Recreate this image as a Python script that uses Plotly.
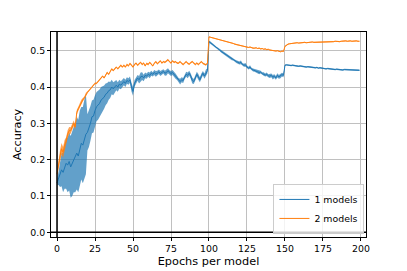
import plotly.graph_objects as go
import numpy as np

epochs = list(range(200))

acc_1_mean = [
    0.136, 0.15, 0.16, 0.172, 0.165, 0.18, 0.19, 0.185, 0.195, 0.18,
    0.19, 0.20, 0.205, 0.218, 0.21, 0.23, 0.245, 0.24, 0.255, 0.27,
    0.275, 0.285, 0.30, 0.318, 0.32, 0.335, 0.346, 0.35, 0.355, 0.364,
    0.368, 0.372, 0.38, 0.383, 0.39, 0.392, 0.40, 0.395, 0.40, 0.405,
    0.40, 0.408, 0.405, 0.41, 0.415, 0.41, 0.418, 0.415, 0.42, 0.40,
    0.388, 0.41, 0.418, 0.425, 0.42, 0.428, 0.43, 0.425, 0.432, 0.43,
    0.435, 0.432, 0.438, 0.435, 0.44, 0.436, 0.438, 0.442, 0.437, 0.44,
    0.443, 0.438, 0.44, 0.445, 0.44, 0.437, 0.44, 0.435, 0.43, 0.425,
    0.418, 0.415, 0.42, 0.418, 0.428, 0.435, 0.432, 0.438, 0.43, 0.418,
    0.415, 0.425, 0.435, 0.428, 0.42, 0.43, 0.438, 0.43, 0.44, 0.445,
    0.525, 0.522, 0.518, 0.515, 0.512, 0.508, 0.505, 0.502, 0.498, 0.495,
    0.492, 0.49, 0.486, 0.483, 0.48, 0.478, 0.476, 0.472, 0.47, 0.468,
    0.466, 0.468, 0.462, 0.46, 0.461, 0.455, 0.452, 0.455, 0.449, 0.447,
    0.446, 0.444, 0.442, 0.44, 0.441, 0.437, 0.436, 0.433, 0.435, 0.431,
    0.43, 0.432, 0.427, 0.43, 0.425, 0.432, 0.428, 0.43, 0.434, 0.432,
    0.46, 0.461, 0.460, 0.461, 0.459, 0.460, 0.459, 0.458, 0.459, 0.457,
    0.458, 0.457, 0.456, 0.457, 0.455, 0.456, 0.455, 0.454, 0.455, 0.454,
    0.453, 0.454, 0.452, 0.453, 0.452, 0.451, 0.452, 0.450, 0.451, 0.450,
    0.449, 0.450, 0.449, 0.448, 0.449, 0.448, 0.449, 0.448, 0.447, 0.448,
    0.448, 0.447, 0.448, 0.447, 0.448, 0.447, 0.446, 0.447, 0.446, 0.446,
]

acc_1_std = [
    0.005, 0.02, 0.035, 0.045, 0.055, 0.06, 0.07, 0.075, 0.08, 0.085,
    0.09, 0.09, 0.095, 0.10, 0.10, 0.105, 0.10, 0.105, 0.11, 0.11,
    0.05, 0.05, 0.048, 0.045, 0.045, 0.042, 0.04, 0.04, 0.038, 0.036,
    0.034, 0.032, 0.03, 0.028, 0.025, 0.022, 0.02, 0.018, 0.016, 0.014,
    0.013, 0.012, 0.011, 0.01, 0.01, 0.01, 0.009, 0.009, 0.009, 0.012,
    0.012, 0.009, 0.008, 0.008, 0.01, 0.012, 0.011, 0.009, 0.008, 0.007,
    0.007, 0.008, 0.007, 0.006, 0.007, 0.008, 0.007, 0.006, 0.007, 0.007,
    0.006, 0.007, 0.008, 0.007, 0.006, 0.007, 0.007, 0.008, 0.007, 0.006,
    0.007, 0.008, 0.007, 0.007, 0.006, 0.007, 0.008, 0.007, 0.007, 0.008,
    0.007, 0.006, 0.007, 0.008, 0.007, 0.007, 0.006, 0.007, 0.008, 0.007,
    0.003, 0.003, 0.003, 0.003, 0.003, 0.003, 0.003, 0.003, 0.003, 0.003,
    0.003, 0.003, 0.004, 0.003, 0.004, 0.004, 0.003, 0.004, 0.004, 0.004,
    0.004, 0.005, 0.004, 0.004, 0.005, 0.004, 0.004, 0.005, 0.004, 0.004,
    0.004, 0.004, 0.004, 0.005, 0.004, 0.004, 0.005, 0.004, 0.005, 0.004,
    0.005, 0.005, 0.006, 0.005, 0.005, 0.006, 0.005, 0.006, 0.005, 0.005,
    0.002, 0.002, 0.002, 0.002, 0.002, 0.002, 0.002, 0.002, 0.002, 0.002,
    0.002, 0.002, 0.002, 0.002, 0.002, 0.002, 0.002, 0.002, 0.002, 0.002,
    0.002, 0.002, 0.002, 0.002, 0.002, 0.002, 0.002, 0.002, 0.002, 0.002,
    0.002, 0.002, 0.002, 0.002, 0.002, 0.002, 0.002, 0.002, 0.002, 0.002,
    0.002, 0.002, 0.002, 0.002, 0.002, 0.002, 0.002, 0.002, 0.002, 0.002,
]

acc_2_mean = [
    0.16, 0.19, 0.21, 0.23, 0.22, 0.24, 0.25, 0.27, 0.28, 0.28,
    0.29, 0.30, 0.29, 0.33, 0.34, 0.35, 0.36, 0.365, 0.37, 0.38,
    0.385, 0.39, 0.395, 0.40, 0.405, 0.41, 0.41, 0.415, 0.42, 0.425,
    0.43, 0.425, 0.435, 0.44, 0.435, 0.445, 0.45, 0.445, 0.45, 0.455,
    0.45, 0.455, 0.46, 0.455, 0.46, 0.455, 0.462, 0.458, 0.465, 0.46,
    0.455, 0.462, 0.466, 0.46, 0.465, 0.468, 0.462, 0.466, 0.458, 0.465,
    0.462, 0.468, 0.463, 0.458, 0.465, 0.47, 0.464, 0.468, 0.472, 0.466,
    0.47, 0.468, 0.472, 0.475, 0.47, 0.466, 0.472, 0.468, 0.47, 0.466,
    0.466, 0.47, 0.465, 0.462, 0.466, 0.47, 0.465, 0.463, 0.467, 0.47,
    0.466, 0.462, 0.466, 0.462, 0.466, 0.47, 0.465, 0.462, 0.461, 0.466,
    0.538, 0.537, 0.536, 0.535, 0.534, 0.533, 0.531, 0.530, 0.529, 0.528,
    0.526, 0.525, 0.524, 0.523, 0.522, 0.521, 0.520, 0.518, 0.517, 0.516,
    0.515, 0.514, 0.512, 0.511, 0.512, 0.510, 0.509, 0.510, 0.508, 0.507,
    0.507, 0.508, 0.506, 0.507, 0.505, 0.506, 0.504, 0.505, 0.503, 0.504,
    0.502, 0.501, 0.502, 0.500, 0.499, 0.500, 0.498, 0.497, 0.499, 0.498,
    0.512, 0.516, 0.518, 0.519, 0.520, 0.521, 0.520, 0.521, 0.522, 0.521,
    0.522, 0.521, 0.522, 0.523, 0.522, 0.523, 0.522, 0.523, 0.524, 0.523,
    0.523, 0.524, 0.523, 0.524, 0.524, 0.525, 0.524, 0.525, 0.524, 0.525,
    0.525, 0.524, 0.525, 0.526, 0.525, 0.526, 0.525, 0.526, 0.527, 0.526,
    0.527, 0.526, 0.527, 0.527, 0.526, 0.527, 0.526, 0.527, 0.526, 0.526,
]

acc_2_std = [
    0.004, 0.012, 0.016, 0.016, 0.015, 0.014, 0.012, 0.011, 0.01, 0.009,
    0.008, 0.008, 0.007, 0.007, 0.006, 0.006, 0.005, 0.005, 0.004, 0.004,
] + [0.0025] * 80 + [0.0015] * 100

series = [
    ("1 models", acc_1_mean, acc_1_std, "31,119,180"),
    ("2 models", acc_2_mean, acc_2_std, "255,127,14"),
]

fig = go.Figure()
for name, mean, std, rgb in series:
    m = np.array(mean)
    s = np.array(std)
    fig.add_trace(go.Scatter(x=epochs, y=m + s, mode="lines", line=dict(width=0),
                             showlegend=False, hoverinfo="skip"))
    fig.add_trace(go.Scatter(x=epochs, y=m - s, mode="lines", line=dict(width=0),
                             fill="tonexty", fillcolor=f"rgba({rgb},0.7)",
                             showlegend=False, hoverinfo="skip"))
    fig.add_trace(go.Scatter(x=epochs, y=m, mode="lines", name=name,
                             line=dict(color=f"rgb({rgb})", width=1)))

fig.add_shape(type="line", xref="x", yref="paper", x0=0, x1=0, y0=0, y1=1,
              line=dict(color="black", width=1.5))
fig.add_shape(type="line", xref="paper", yref="y", x0=0, x1=1, y0=0, y1=0,
              line=dict(color="black", width=1.5))

font = "DejaVu Sans"
fig.update_layout(
    width=399, height=263,
    margin=dict(l=43, r=41, t=24, b=34, autoexpand=False),
    paper_bgcolor="white", plot_bgcolor="white",
    font=dict(family=font, size=9.4, color="black"),
    showlegend=True,
    legend=dict(x=0.995, y=0.015, xanchor="right", yanchor="bottom",
                bgcolor="rgba(255,255,255,0.8)", bordercolor="#cccccc", borderwidth=1,
                font=dict(size=9.4), tracegroupgap=0, itemwidth=30,
                traceorder="normal"),
)
fig.update_xaxes(
    range=[-3.95, 203.3], tickvals=[0, 25, 50, 75, 100, 125, 150, 175, 200],
    showgrid=True, gridcolor="#c0c0c0", gridwidth=1, zeroline=False,
    showline=True, linecolor="black", linewidth=1, mirror=True,
    ticks="outside", ticklen=3, tickcolor="black", automargin=False,
    title=dict(text="Epochs per model", font=dict(size=11.3), standoff=3),
)
fig.update_yaxes(
    range=[-0.013, 0.5515], tickvals=[0.0, 0.1, 0.2, 0.3, 0.4, 0.5],
    ticktext=["0.0", "0.1", "0.2", "0.3", "0.4", "0.5"],
    showgrid=True, gridcolor="#c0c0c0", gridwidth=1, zeroline=False,
    showline=True, linecolor="black", linewidth=1, mirror=True,
    ticks="outside", ticklen=3, tickcolor="black", automargin=False,
    title=dict(text="Accuracy", font=dict(size=11.3), standoff=6),
)

fig.write_html("out.html")
